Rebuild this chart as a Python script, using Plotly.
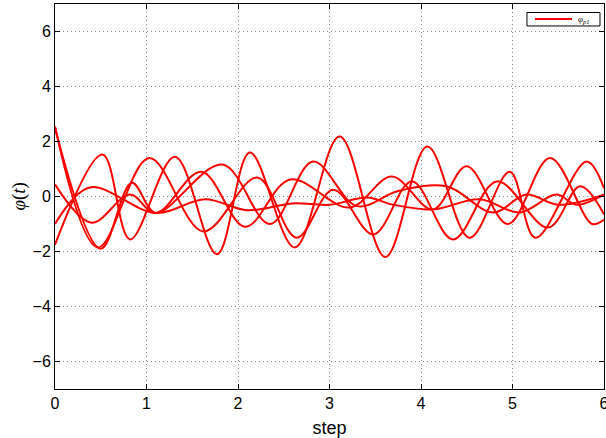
import plotly.graph_objects as go

# Keypoints (step, phi)
s1_x = [0, 0.47, 1.03, 1.62, 2.21, 2.64, 3.04, 3.48, 3.9, 4.35, 4.83, 5.39, 5.74, 6.0]
s1_y = [2.55, -1.85, 1.4, -1.27, 0.69, -1.5, 0.25, -1.38, 0.55, -1.56, 0.55, -1.13, 0.37, -0.65]

s2_x = [0, 0.5, 0.84, 1.1, 1.6, 2.08, 2.57, 3.22, 3.68, 4.13, 4.5, 4.95, 5.41, 5.87, 6.0]
s2_y = [2.5, -1.9, 0.5, -0.6, 0.9, -1.1, 0.62, -0.4, 0.73, -0.47, 1.1, -1.0, 1.4, -1.0, -0.84]

s3_x = [0, 0.4, 0.82, 1.1, 1.83, 2.35, 2.82, 3.3, 3.75, 4.28, 4.79, 5.15, 5.5, 6.0]
s3_y = [0.44, -0.95, 0.07, -0.6, 1.16, -1.0, 1.27, -0.35, 0.2, 0.37, -0.58, 0.07, -0.3, 0.07]

s4_x = [0, 0.38, 1.1, 1.64, 2.1, 2.6, 3.0, 3.41, 3.7, 4.13, 4.64, 5.08, 5.48, 5.7, 6.0]
s4_y = [-1.0, 0.33, -0.6, -0.1, -0.5, -0.25, -0.3, -0.04, -0.3, -0.47, -0.1, -0.58, 0.07, -0.3, 0.07]

s5_x = [0, 0.52, 0.82, 1.31, 1.77, 2.13, 2.62, 3.11, 3.61, 4.07, 4.53, 4.97, 5.25, 5.81, 6.0]
s5_y = [-1.75, 1.53, -1.56, 1.45, -2.1, 1.6, -1.85, 2.18, -2.2, 1.82, -1.5, 0.9, -1.5, 1.27, 0.3]

series = [(s1_x, s1_y), (s2_x, s2_y), (s3_x, s3_y), (s4_x, s4_y), (s5_x, s5_y)]

x_ticks = [0, 1, 2, 3, 4, 5, 6]
y_ticks = [-6, -4, -2, 0, 2, 4, 6]
y_ticktext = ["−6", "−4", "−2", "0", "2", "4", "6"]
legend_label = "<i>φ</i><sub><i>p1</i></sub>"

fig = go.Figure()
for i, (xs, ys) in enumerate(series):
    fig.add_trace(go.Scatter(
        x=xs, y=ys, mode="lines",
        line=dict(color="#ff0000", width=2, shape="spline", smoothing=1.0),
        name="φp1",
        showlegend=False,
    ))

axis_common = dict(
    showline=True, linecolor="black", linewidth=1, mirror="ticks",
    ticks="inside", ticklen=5, tickcolor="black",
    showgrid=True, gridcolor="#8a8a8a", griddash="1px,3px", gridwidth=1,
    zeroline=False, automargin=False, ticklabeloverflow="allow",
    tickfont=dict(family="Liberation Sans, Arial", size=16, color="black"),
)

# small MATLAB-style legend box (paper coordinates)
legend_shapes = [
    dict(type="rect", xref="paper", yref="paper", x0=0.8597, x1=0.9927, y0=0.9429, y1=0.9779,
         line=dict(color="black", width=1), fillcolor="white", layer="above"),
    dict(type="line", xref="paper", yref="paper", x0=0.8743, x1=0.9417, y0=0.961, y1=0.961,
         line=dict(color="#ff0000", width=2), layer="above"),
]

fig.update_layout(
    width=606, height=438,
    margin=dict(l=55, r=2, t=4, b=49),
    paper_bgcolor="white", plot_bgcolor="white",
    showlegend=False,
    xaxis=dict(range=[0, 6], tickvals=x_ticks, **axis_common,
               title=dict(text="step", font=dict(family="Liberation Sans, Arial", size=18, color="black"))),
    yaxis=dict(range=[-7, 7], tickvals=y_ticks, ticktext=y_ticktext, **axis_common),
    shapes=legend_shapes,
    annotations=[
        dict(text="<i>φ</i>(<i>t</i>)", textangle=-90, xref="paper", yref="paper",
             x=0, y=0.5, xanchor="center", yanchor="middle", xshift=-37, showarrow=False,
             font=dict(family="Liberation Serif, Times New Roman", size=19, color="black")),
        dict(text=legend_label, xref="paper", yref="paper", x=0.9625, y=0.961,
             xanchor="center", yanchor="middle", showarrow=False,
             font=dict(family="Liberation Serif, Times New Roman", size=9, color="black")),
    ],
)

fig.write_html("out.html", config={"displayModeBar": False},
               post_script="document.body.style.margin='0';document.body.style.padding='0';")
